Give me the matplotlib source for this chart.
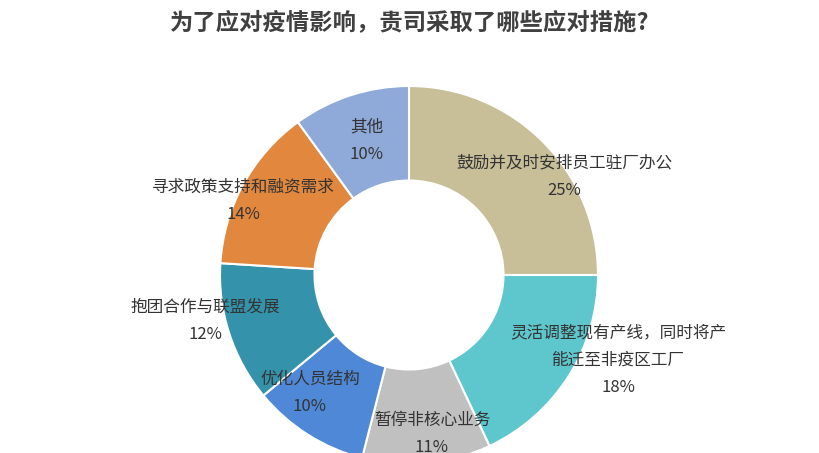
import matplotlib.pyplot as plt

plt.rcParams['font.family'] = ['Noto Sans CJK SC', 'DejaVu Sans']

categories = [
    "鼓励并及时安排员工驻厂办公",
    "灵活调整现有产线，同时将产\n能迁至非疫区工厂",
    "暂停非核心业务",
    "优化人员结构",
    "抱团合作与联盟发展",
    "寻求政策支持和融资需求",
    "其他",
]
shares = [25, 18, 11, 10, 12, 14, 10]
colors = ["#C8BF99", "#5EC7CD", "#C0C0C0", "#4E88D6", "#3592AB", "#E2873E", "#8FA9D8"]

# label anchor points (pixel coords, y from top)
label_pos = [(564, 177), (618, 360), (432, 434), (310, 393), (205, 321), (243, 201), (367, 141)]

W, H = 820, 453
fig = plt.figure(figsize=(W / 100, H / 100), dpi=100)
ax = fig.add_axes([0, 0, 1, 1])

cx, cy, r = 409, H - 275, 189
ax.pie(shares, colors=colors, startangle=90, counterclock=False,
       center=(cx, cy), radius=r,
       wedgeprops=dict(width=r * 0.5, edgecolor="white", linewidth=1.5))
ax.set_aspect("equal")
ax.set_xlim(0, W)
ax.set_ylim(0, H)
ax.axis("off")

for name, val, (px, py) in zip(categories, shares, label_pos):
    ax.text(px, H - py, f"{name}\n{val}%", ha="center", va="center",
            fontsize=12, color="#333333", linespacing=1.8)

fig.text(0.5, 1 - 22 / H, "为了应对疫情影响，贵司采取了哪些应对措施?",
         ha="center", va="center", fontsize=16.8, fontweight="bold", color="#404040")

fig.savefig("out.png", dpi=100)
